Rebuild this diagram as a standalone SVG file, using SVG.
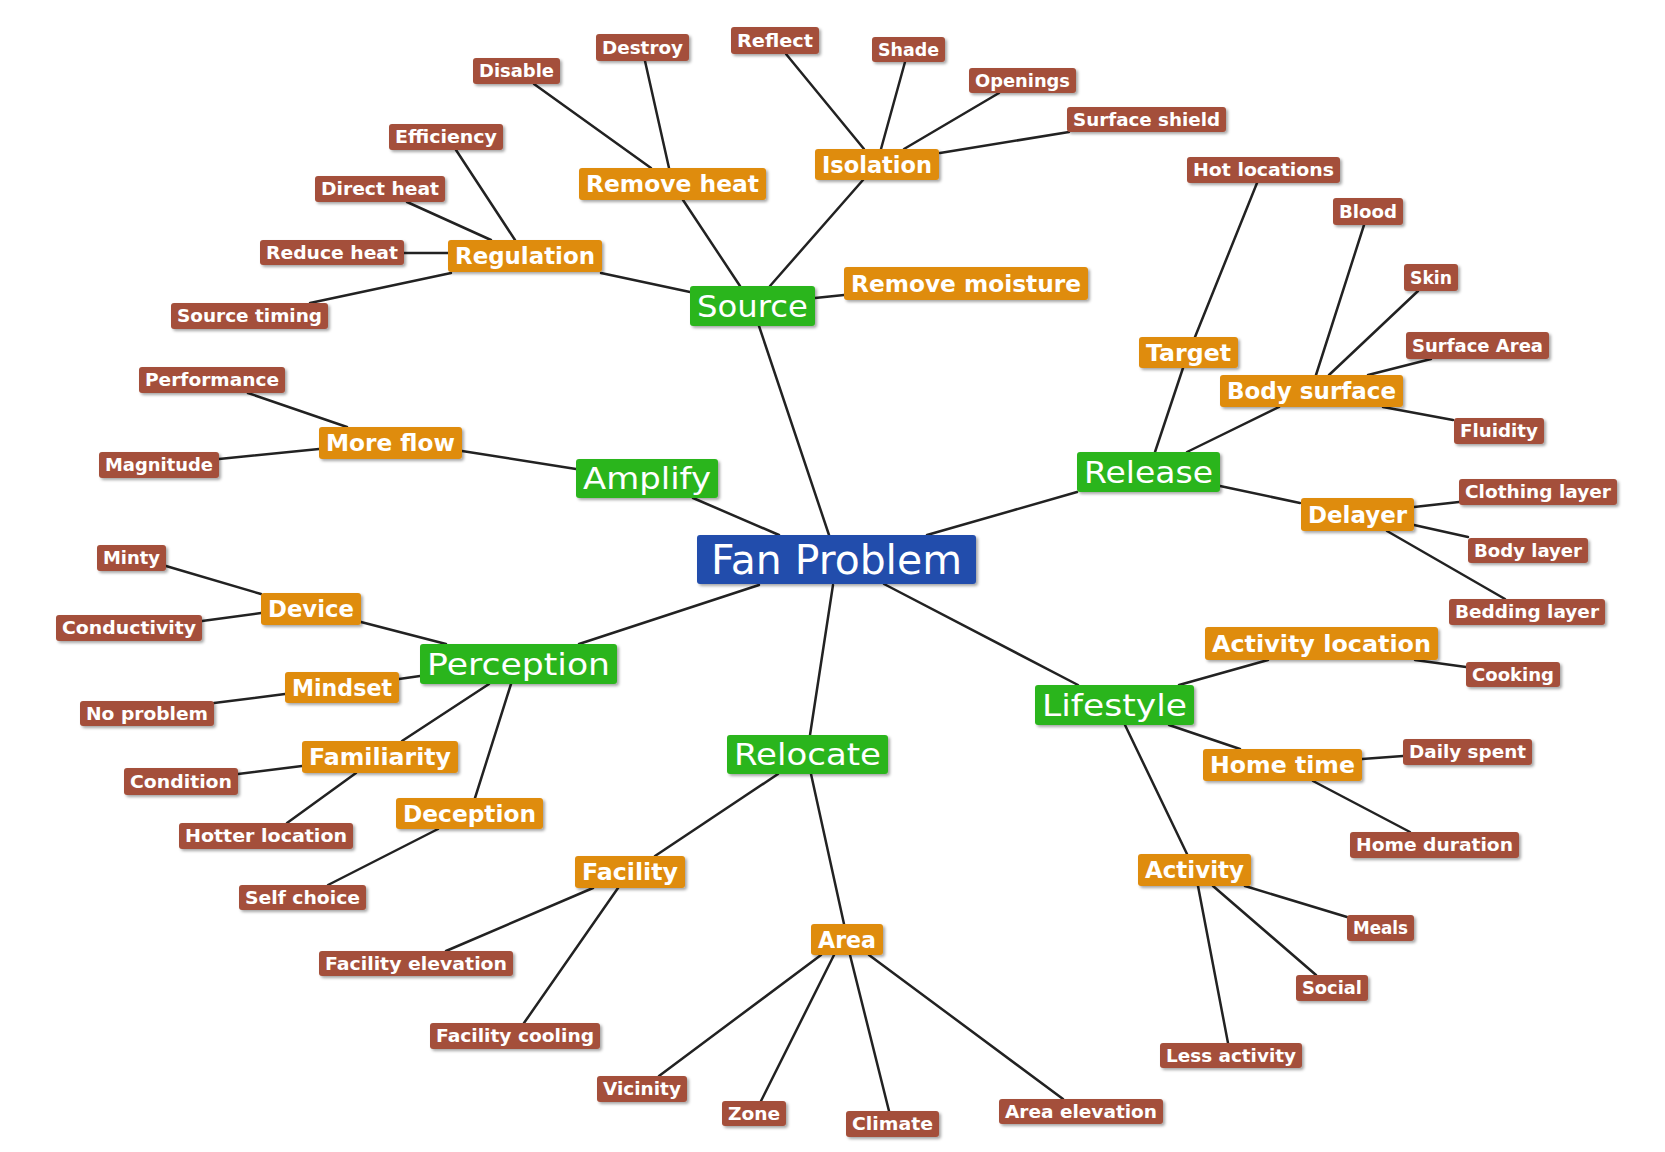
<svg xmlns="http://www.w3.org/2000/svg" width="1665" height="1152" viewBox="0 0 1665 1152">
<defs>
<filter id="ds" x="-10%" y="-20%" width="125%" height="150%">
<feDropShadow dx="2" dy="2" stdDeviation="1.5" flood-color="#000" flood-opacity="0.35"/>
</filter>
<style>
.n rect{filter:url(#ds)}
.n text{fill:#fff;text-anchor:middle;font-family:"DejaVu Sans","Noto Sans",sans-serif}
.b rect{fill:#a4503b}
.b text{font-size:17px;font-weight:bold}
.o rect{fill:#df8c0d}
.o text{font-size:23px;font-weight:bold}
.g rect{fill:#2bb51f}
.g text{font-size:30px}
.r rect{fill:#224eac}
.r text{font-size:40px}
#edges line{stroke:#222;stroke-width:2.5;stroke-linecap:round}
</style>
</defs>
<rect width="1665" height="1152" fill="#fff"/>
<g id="edges">
<line x1="829" y1="535" x2="759" y2="326"/>
<line x1="779" y1="535" x2="693" y2="498"/>
<line x1="927" y1="535" x2="1077" y2="492"/>
<line x1="759" y1="585" x2="579" y2="644"/>
<line x1="833" y1="585" x2="810" y2="735"/>
<line x1="884" y1="584" x2="1078" y2="685"/>
<line x1="740" y1="286" x2="683" y2="200"/>
<line x1="770" y1="286" x2="863" y2="180"/>
<line x1="690" y1="292" x2="601" y2="273"/>
<line x1="815" y1="298" x2="844" y2="295"/>
<line x1="651" y1="168" x2="534" y2="84"/>
<line x1="669" y1="168" x2="645" y2="61"/>
<line x1="864" y1="149" x2="786" y2="54"/>
<line x1="881" y1="149" x2="905" y2="62"/>
<line x1="904" y1="149" x2="999" y2="93"/>
<line x1="940" y1="153" x2="1069" y2="132"/>
<line x1="515" y1="240" x2="456" y2="150"/>
<line x1="491" y1="240" x2="407" y2="202"/>
<line x1="448" y1="253" x2="404" y2="253"/>
<line x1="451" y1="273" x2="310" y2="303"/>
<line x1="576" y1="469" x2="462" y2="451"/>
<line x1="347" y1="427" x2="248" y2="393"/>
<line x1="319" y1="449" x2="219" y2="459"/>
<line x1="1155" y1="452" x2="1183" y2="368"/>
<line x1="1187" y1="452" x2="1279" y2="407"/>
<line x1="1220" y1="486" x2="1300" y2="503"/>
<line x1="1195" y1="337" x2="1257" y2="183"/>
<line x1="1316" y1="375" x2="1364" y2="225"/>
<line x1="1329" y1="375" x2="1418" y2="291"/>
<line x1="1368" y1="375" x2="1431" y2="359"/>
<line x1="1383" y1="407" x2="1453" y2="420"/>
<line x1="1414" y1="507" x2="1459" y2="502"/>
<line x1="1414" y1="525" x2="1468" y2="537"/>
<line x1="1387" y1="531" x2="1505" y2="599"/>
<line x1="446" y1="644" x2="361" y2="622"/>
<line x1="420" y1="676" x2="399" y2="679"/>
<line x1="489" y1="684" x2="402" y2="741"/>
<line x1="511" y1="684" x2="475" y2="798"/>
<line x1="261" y1="594" x2="166" y2="566"/>
<line x1="261" y1="613" x2="202" y2="621"/>
<line x1="285" y1="694" x2="214" y2="703"/>
<line x1="302" y1="766" x2="238" y2="774"/>
<line x1="356" y1="773" x2="287" y2="823"/>
<line x1="438" y1="829" x2="328" y2="885"/>
<line x1="778" y1="774" x2="655" y2="856"/>
<line x1="811" y1="774" x2="844" y2="924"/>
<line x1="593" y1="888" x2="446" y2="951"/>
<line x1="618" y1="888" x2="524" y2="1023"/>
<line x1="821" y1="955" x2="659" y2="1076"/>
<line x1="834" y1="955" x2="761" y2="1101"/>
<line x1="850" y1="955" x2="889" y2="1111"/>
<line x1="869" y1="955" x2="1063" y2="1099"/>
<line x1="1179" y1="685" x2="1268" y2="660"/>
<line x1="1169" y1="725" x2="1240" y2="749"/>
<line x1="1125" y1="725" x2="1187" y2="854"/>
<line x1="1415" y1="660" x2="1466" y2="667"/>
<line x1="1362" y1="759" x2="1403" y2="756"/>
<line x1="1313" y1="781" x2="1410" y2="832"/>
<line x1="1245" y1="886" x2="1347" y2="917"/>
<line x1="1213" y1="886" x2="1316" y2="975"/>
<line x1="1198" y1="886" x2="1228" y2="1043"/>
</g>
<g id="n-fan" class="n r"><rect x="697" y="535" width="279" height="49" rx="3"/><text x="836.5" y="573.5" textLength="251" lengthAdjust="spacingAndGlyphs">Fan Problem</text></g>
<g id="n-source" class="n g"><rect x="690" y="286" width="125" height="40" rx="3"/><text x="752.5" y="316.5" textLength="111" lengthAdjust="spacingAndGlyphs">Source</text></g>
<g id="n-amplify" class="n g"><rect x="576" y="459" width="142" height="39" rx="3"/><text x="647" y="489" textLength="128" lengthAdjust="spacingAndGlyphs">Amplify</text></g>
<g id="n-release" class="n g"><rect x="1077" y="452" width="143" height="40" rx="3"/><text x="1148.5" y="482.5" textLength="129" lengthAdjust="spacingAndGlyphs">Release</text></g>
<g id="n-perception" class="n g"><rect x="420" y="644" width="197" height="40" rx="3"/><text x="518.5" y="674.5" textLength="183" lengthAdjust="spacingAndGlyphs">Perception</text></g>
<g id="n-relocate" class="n g"><rect x="727" y="735" width="161" height="39" rx="3"/><text x="807.5" y="765" textLength="147" lengthAdjust="spacingAndGlyphs">Relocate</text></g>
<g id="n-lifestyle" class="n g"><rect x="1035" y="685" width="159" height="40" rx="3"/><text x="1114.5" y="715.5" textLength="145" lengthAdjust="spacingAndGlyphs">Lifestyle</text></g>
<g id="n-removeheat" class="n o"><rect x="579" y="168" width="187" height="32" rx="3"/><text x="672.5" y="192" textLength="173" lengthAdjust="spacingAndGlyphs">Remove heat</text></g>
<g id="n-isolation" class="n o"><rect x="815" y="149" width="124" height="31" rx="3"/><text x="877" y="172.5" textLength="110" lengthAdjust="spacingAndGlyphs">Isolation</text></g>
<g id="n-regulation" class="n o"><rect x="448" y="240" width="154" height="32" rx="3"/><text x="525" y="264" textLength="140" lengthAdjust="spacingAndGlyphs">Regulation</text></g>
<g id="n-removemoisture" class="n o"><rect x="844" y="267" width="244" height="33" rx="3"/><text x="966" y="291.5" textLength="230" lengthAdjust="spacingAndGlyphs">Remove moisture</text></g>
<g id="n-moreflow" class="n o"><rect x="319" y="427" width="143" height="32" rx="3"/><text x="390.5" y="451" textLength="129" lengthAdjust="spacingAndGlyphs">More flow</text></g>
<g id="n-target" class="n o"><rect x="1139" y="337" width="99" height="31" rx="3"/><text x="1188.5" y="360.5" textLength="85" lengthAdjust="spacingAndGlyphs">Target</text></g>
<g id="n-bodysurface" class="n o"><rect x="1220" y="375" width="183" height="32" rx="3"/><text x="1311.5" y="399" textLength="169" lengthAdjust="spacingAndGlyphs">Body surface</text></g>
<g id="n-delayer" class="n o"><rect x="1301" y="498" width="113" height="33" rx="3"/><text x="1357.5" y="522.5" textLength="99" lengthAdjust="spacingAndGlyphs">Delayer</text></g>
<g id="n-device" class="n o"><rect x="261" y="593" width="100" height="32" rx="3"/><text x="311" y="617" textLength="86" lengthAdjust="spacingAndGlyphs">Device</text></g>
<g id="n-mindset" class="n o"><rect x="285" y="672" width="114" height="31" rx="3"/><text x="342" y="695.5" textLength="100" lengthAdjust="spacingAndGlyphs">Mindset</text></g>
<g id="n-familiarity" class="n o"><rect x="302" y="741" width="156" height="32" rx="3"/><text x="380" y="765" textLength="142" lengthAdjust="spacingAndGlyphs">Familiarity</text></g>
<g id="n-deception" class="n o"><rect x="396" y="798" width="147" height="31" rx="3"/><text x="469.5" y="821.5" textLength="133" lengthAdjust="spacingAndGlyphs">Deception</text></g>
<g id="n-facility" class="n o"><rect x="575" y="856" width="110" height="32" rx="3"/><text x="630" y="880" textLength="96" lengthAdjust="spacingAndGlyphs">Facility</text></g>
<g id="n-area" class="n o"><rect x="811" y="924" width="72" height="31" rx="3"/><text x="847" y="947.5" textLength="58" lengthAdjust="spacingAndGlyphs">Area</text></g>
<g id="n-activitylocation" class="n o"><rect x="1205" y="627" width="233" height="33" rx="3"/><text x="1321.5" y="651.5" textLength="219" lengthAdjust="spacingAndGlyphs">Activity location</text></g>
<g id="n-hometime" class="n o"><rect x="1203" y="749" width="159" height="32" rx="3"/><text x="1282.5" y="773" textLength="145" lengthAdjust="spacingAndGlyphs">Home time</text></g>
<g id="n-activity" class="n o"><rect x="1138" y="854" width="113" height="32" rx="3"/><text x="1194.5" y="878" textLength="99" lengthAdjust="spacingAndGlyphs">Activity</text></g>
<g id="n-disable" class="n b"><rect x="473" y="58" width="87" height="26" rx="3"/><text x="516.5" y="77" textLength="75" lengthAdjust="spacingAndGlyphs">Disable</text></g>
<g id="n-destroy" class="n b"><rect x="596" y="34" width="93" height="27" rx="3"/><text x="642.5" y="53.5" textLength="81" lengthAdjust="spacingAndGlyphs">Destroy</text></g>
<g id="n-reflect" class="n b"><rect x="731" y="27" width="88" height="27" rx="3"/><text x="775" y="46.5" textLength="76" lengthAdjust="spacingAndGlyphs">Reflect</text></g>
<g id="n-shade" class="n b"><rect x="872" y="37" width="73" height="25" rx="3"/><text x="908.5" y="55.5" textLength="61" lengthAdjust="spacingAndGlyphs">Shade</text></g>
<g id="n-openings" class="n b"><rect x="969" y="68" width="107" height="25" rx="3"/><text x="1022.5" y="86.5" textLength="95" lengthAdjust="spacingAndGlyphs">Openings</text></g>
<g id="n-surfaceshield" class="n b"><rect x="1067" y="107" width="159" height="25" rx="3"/><text x="1146.5" y="125.5" textLength="147" lengthAdjust="spacingAndGlyphs">Surface shield</text></g>
<g id="n-efficiency" class="n b"><rect x="389" y="124" width="114" height="26" rx="3"/><text x="446" y="143" textLength="102" lengthAdjust="spacingAndGlyphs">Efficiency</text></g>
<g id="n-directheat" class="n b"><rect x="315" y="176" width="130" height="26" rx="3"/><text x="380" y="195" textLength="118" lengthAdjust="spacingAndGlyphs">Direct heat</text></g>
<g id="n-reduceheat" class="n b"><rect x="260" y="240" width="144" height="25" rx="3"/><text x="332" y="258.5" textLength="132" lengthAdjust="spacingAndGlyphs">Reduce heat</text></g>
<g id="n-sourcetiming" class="n b"><rect x="171" y="303" width="157" height="26" rx="3"/><text x="249.5" y="322" textLength="145" lengthAdjust="spacingAndGlyphs">Source timing</text></g>
<g id="n-hotlocations" class="n b"><rect x="1187" y="157" width="153" height="26" rx="3"/><text x="1263.5" y="176" textLength="141" lengthAdjust="spacingAndGlyphs">Hot locations</text></g>
<g id="n-blood" class="n b"><rect x="1333" y="198" width="70" height="27" rx="3"/><text x="1368" y="217.5" textLength="58" lengthAdjust="spacingAndGlyphs">Blood</text></g>
<g id="n-skin" class="n b"><rect x="1404" y="264" width="54" height="27" rx="3"/><text x="1431" y="283.5" textLength="42" lengthAdjust="spacingAndGlyphs">Skin</text></g>
<g id="n-surfacearea" class="n b"><rect x="1406" y="332" width="143" height="27" rx="3"/><text x="1477.5" y="351.5" textLength="131" lengthAdjust="spacingAndGlyphs">Surface Area</text></g>
<g id="n-fluidity" class="n b"><rect x="1454" y="418" width="90" height="26" rx="3"/><text x="1499" y="437" textLength="78" lengthAdjust="spacingAndGlyphs">Fluidity</text></g>
<g id="n-performance" class="n b"><rect x="139" y="367" width="146" height="26" rx="3"/><text x="212" y="386" textLength="134" lengthAdjust="spacingAndGlyphs">Performance</text></g>
<g id="n-magnitude" class="n b"><rect x="99" y="452" width="120" height="26" rx="3"/><text x="159" y="471" textLength="108" lengthAdjust="spacingAndGlyphs">Magnitude</text></g>
<g id="n-clothinglayer" class="n b"><rect x="1459" y="479" width="158" height="26" rx="3"/><text x="1538" y="498" textLength="146" lengthAdjust="spacingAndGlyphs">Clothing layer</text></g>
<g id="n-bodylayer" class="n b"><rect x="1468" y="538" width="120" height="25" rx="3"/><text x="1528" y="556.5" textLength="108" lengthAdjust="spacingAndGlyphs">Body layer</text></g>
<g id="n-beddinglayer" class="n b"><rect x="1449" y="599" width="156" height="26" rx="3"/><text x="1527" y="618" textLength="144" lengthAdjust="spacingAndGlyphs">Bedding layer</text></g>
<g id="n-minty" class="n b"><rect x="97" y="545" width="69" height="26" rx="3"/><text x="131.5" y="564" textLength="57" lengthAdjust="spacingAndGlyphs">Minty</text></g>
<g id="n-conductivity" class="n b"><rect x="56" y="615" width="146" height="26" rx="3"/><text x="129" y="634" textLength="134" lengthAdjust="spacingAndGlyphs">Conductivity</text></g>
<g id="n-cooking" class="n b"><rect x="1466" y="662" width="94" height="25" rx="3"/><text x="1513" y="680.5" textLength="82" lengthAdjust="spacingAndGlyphs">Cooking</text></g>
<g id="n-noproblem" class="n b"><rect x="80" y="701" width="134" height="25" rx="3"/><text x="147" y="719.5" textLength="122" lengthAdjust="spacingAndGlyphs">No problem</text></g>
<g id="n-dailyspent" class="n b"><rect x="1403" y="739" width="129" height="26" rx="3"/><text x="1467.5" y="758" textLength="117" lengthAdjust="spacingAndGlyphs">Daily spent</text></g>
<g id="n-condition" class="n b"><rect x="124" y="768" width="114" height="27" rx="3"/><text x="181" y="787.5" textLength="102" lengthAdjust="spacingAndGlyphs">Condition</text></g>
<g id="n-hotterlocation" class="n b"><rect x="179" y="823" width="174" height="26" rx="3"/><text x="266" y="842" textLength="162" lengthAdjust="spacingAndGlyphs">Hotter location</text></g>
<g id="n-homeduration" class="n b"><rect x="1350" y="832" width="169" height="26" rx="3"/><text x="1434.5" y="851" textLength="157" lengthAdjust="spacingAndGlyphs">Home duration</text></g>
<g id="n-selfchoice" class="n b"><rect x="239" y="885" width="127" height="25" rx="3"/><text x="302.5" y="903.5" textLength="115" lengthAdjust="spacingAndGlyphs">Self choice</text></g>
<g id="n-meals" class="n b"><rect x="1347" y="915" width="67" height="26" rx="3"/><text x="1380.5" y="934" textLength="55" lengthAdjust="spacingAndGlyphs">Meals</text></g>
<g id="n-facilityelevation" class="n b"><rect x="319" y="951" width="194" height="25" rx="3"/><text x="416" y="969.5" textLength="182" lengthAdjust="spacingAndGlyphs">Facility elevation</text></g>
<g id="n-social" class="n b"><rect x="1296" y="975" width="72" height="26" rx="3"/><text x="1332" y="994" textLength="60" lengthAdjust="spacingAndGlyphs">Social</text></g>
<g id="n-facilitycooling" class="n b"><rect x="430" y="1023" width="170" height="26" rx="3"/><text x="515" y="1042" textLength="158" lengthAdjust="spacingAndGlyphs">Facility cooling</text></g>
<g id="n-lessactivity" class="n b"><rect x="1160" y="1043" width="142" height="25" rx="3"/><text x="1231" y="1061.5" textLength="130" lengthAdjust="spacingAndGlyphs">Less activity</text></g>
<g id="n-vicinity" class="n b"><rect x="597" y="1076" width="90" height="26" rx="3"/><text x="642" y="1095" textLength="78" lengthAdjust="spacingAndGlyphs">Vicinity</text></g>
<g id="n-zone" class="n b"><rect x="722" y="1101" width="64" height="25" rx="3"/><text x="754" y="1119.5" textLength="52" lengthAdjust="spacingAndGlyphs">Zone</text></g>
<g id="n-climate" class="n b"><rect x="846" y="1111" width="93" height="26" rx="3"/><text x="892.5" y="1130" textLength="81" lengthAdjust="spacingAndGlyphs">Climate</text></g>
<g id="n-areaelevation" class="n b"><rect x="999" y="1099" width="164" height="25" rx="3"/><text x="1081" y="1117.5" textLength="152" lengthAdjust="spacingAndGlyphs">Area elevation</text></g>
</svg>
